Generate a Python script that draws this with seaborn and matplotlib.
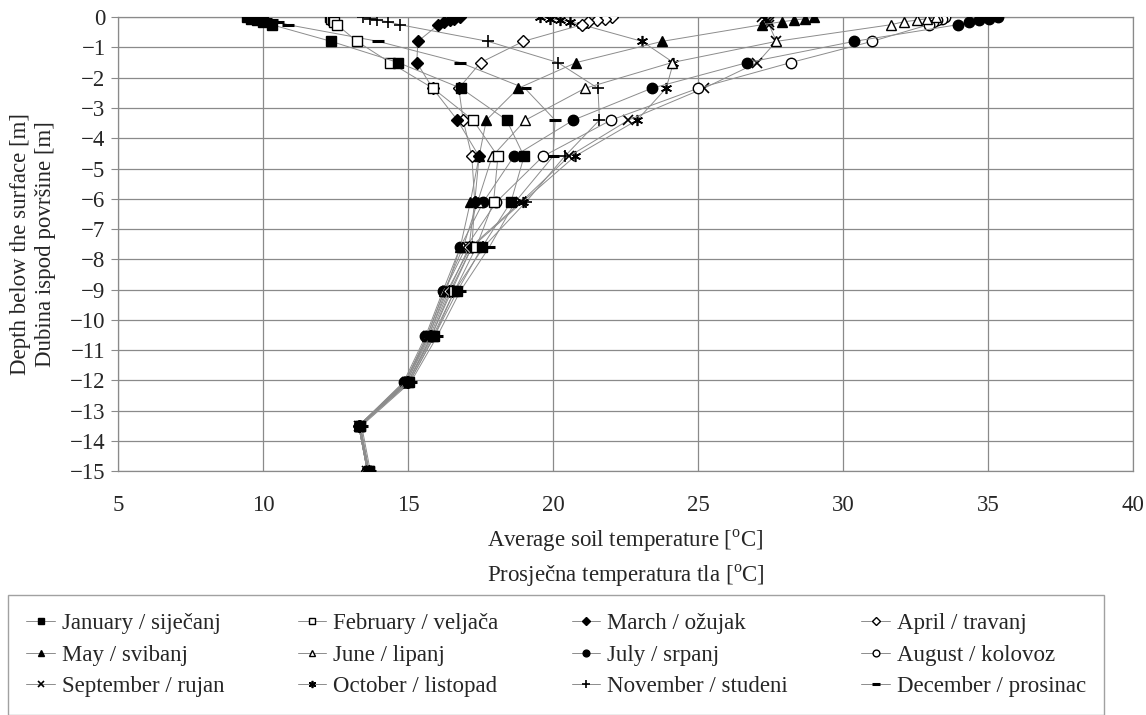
import seaborn as sns
import matplotlib.pyplot as plt
import pandas as pd

# depth levels [m]
depths = [0, -0.05, -0.1, -0.15, -0.25, -0.8, -1.5, -2.35, -3.4, -4.6,
          -6.1, -7.6, -9.05, -10.55, -12.05, -13.5, -15]

months = ['January / siječanj', 'February / veljača', 'March / ožujak',
          'April / travanj', 'May / svibanj', 'June / lipanj', 'July / srpanj',
          'August / kolovoz', 'September / rujan', 'October / listopad',
          'November / studeni', 'December / prosinac']

# average soil temperature [oC] per month, one value per depth level
jan = [9.45, 9.6, 9.8, 10.0, 10.3, 12.35, 14.66, 16.83, 18.4, 19.0, 18.55, 17.55, 16.7, 15.9, 15.05, 13.35, 13.65]
feb = [12.3, 12.35, 12.4, 12.45, 12.55, 13.24, 14.38, 15.86, 17.24, 18.1, 17.95, 17.35, 16.6, 15.85, 15.0, 13.35, 13.65]
mar = [16.8, 16.6, 16.45, 16.25, 16.05, 15.34, 15.3, 15.85, 16.7, 17.45, 17.3, 17.2, 16.5, 15.8, 15.0, 13.35, 13.65]
apr = [22.05, 21.8, 21.5, 21.2, 21.0, 18.97, 17.5, 16.75, 16.9, 17.2, 17.3, 17.1, 16.4, 15.75, 14.95, 13.3, 13.6]
may = [29.0, 28.7, 28.3, 27.9, 27.2, 23.76, 20.8, 18.8, 17.7, 17.45, 17.15, 16.8, 16.3, 15.7, 14.9, 13.3, 13.6]
jun = [33.2, 32.9, 32.55, 32.1, 31.65, 27.7, 24.1, 21.1, 19.05, 17.9, 17.4, 16.9, 16.25, 15.65, 14.9, 13.3, 13.6]
jul = [35.35, 35.05, 34.7, 34.35, 33.95, 30.38, 26.7, 23.4, 20.7, 18.65, 17.6, 16.8, 16.2, 15.6, 14.85, 13.3, 13.6]
aug = [33.5, 33.4, 33.25, 33.1, 32.95, 31.0, 28.2, 25.0, 22.0, 19.65, 18.05, 17.0, 16.25, 15.65, 14.9, 13.3, 13.6]
sep = [27.2, 27.3, 27.4, 27.45, 27.45, 27.7, 27.05, 25.2, 22.6, 20.55, 18.9, 17.15, 16.35, 15.7, 14.95, 13.3, 13.6]
oct_ = [19.55, 19.9, 20.25, 20.6, 21.0, 23.07, 24.15, 23.9, 22.9, 20.75, 18.95, 17.2, 16.45, 15.8, 15.0, 13.3, 13.6]
nov = [13.45, 13.69, 13.93, 14.31, 14.72, 17.76, 20.17, 21.55, 21.6, 20.4, 19.07, 17.6, 16.6, 15.9, 15.05, 13.35, 13.65]
dec = [9.9, 10.1, 10.3, 10.5, 10.86, 13.97, 16.8, 19.03, 20.07, 20.0, 18.7, 17.8, 16.8, 16.0, 15.1, 13.4, 13.7]

temps = [jan, feb, mar, apr, may, jun, jul, aug, sep, oct_, nov, dec]

# marker, filled?, size
styles = [('s', True, 7), ('s', False, 7), ('D', True, 6), ('D', False, 6),
          ('^', True, 7.5), ('^', False, 7.5), ('o', True, 7.5), ('o', False, 7.5),
          ('x', True, 7), ((6, 2, 0), True, 8), ('+', True, 8), ('_', True, 8)]

sns.set_style('white')
plt.rcParams['font.family'] = ['Liberation Serif', 'DejaVu Serif']
plt.rcParams['mathtext.fontset'] = 'custom'
plt.rcParams['mathtext.rm'] = 'Liberation Serif'

fig = plt.figure(figsize=(11.46, 7.15), dpi=100)
ax = fig.add_axes([0.103, 0.341, 0.8857, 0.635])

for i in reversed(range(12)):
    df = pd.DataFrame({'temp': temps[i], 'depth': depths})
    m, filled, ms = styles[i]
    kw = dict(marker=m, markersize=ms, markeredgecolor='black',
              markerfacecolor='black' if filled else 'white')
    if m in ('x', '+', '_') or isinstance(m, tuple):
        kw['markeredgewidth'] = 2.2 if m == '_' else 1.2
    else:
        kw['markeredgewidth'] = 1.0
    sns.lineplot(data=df, x='temp', y='depth', sort=False, estimator=None,
                 color='#8c8c8c', linewidth=0.7, label=months[i], ax=ax,
                 zorder=3 + (12 - i) * 0.01, **kw)

ax.set_xlim(5, 40)
ax.set_ylim(-15, 0)
ax.set_xticks(range(5, 41, 5))
ax.set_yticks(range(-15, 1))
ax.grid(True, color='#8a8a8a', linewidth=0.9)
for s in ax.spines.values():
    s.set_color('#8a8a8a')
    s.set_linewidth(0.9)
ax.tick_params(axis='y', left=True, length=5, color='#8a8a8a', pad=4, labelsize=16.5)
ax.tick_params(axis='x', bottom=False, pad=14, labelsize=16.5)

ax.set_xlabel('Average soil temperature [$^{\\mathrm{o}}$C]\nProsječna temperatura tla [$^{\\mathrm{o}}$C]',
              fontsize=16.5, linespacing=1.45, labelpad=8)
ax.set_ylabel('Depth below the surface [m]\nDubina ispod površine [m]',
              fontsize=16.5, linespacing=1.25, labelpad=10)

handles, labels = ax.get_legend_handles_labels()
lookup = dict(zip(labels, handles))
ax.get_legend().remove()
order = [0, 4, 8, 1, 5, 9, 2, 6, 10, 3, 7, 11]
leg = fig.legend([lookup[months[k]] for k in order], [months[k] for k in order],
                 loc='upper left', bbox_to_anchor=(0.007, 0.168),
                 ncol=4, fontsize=16.5, frameon=True, fancybox=False,
                 edgecolor='#8a8a8a', handlelength=1.25, handletextpad=0.3,
                 labelspacing=0.45, columnspacing=3.2, markerscale=0.65,
                 borderaxespad=0.0, borderpad=0.8)
leg.get_frame().set_linewidth(1.0)

fig.savefig('out.png', dpi=100)
